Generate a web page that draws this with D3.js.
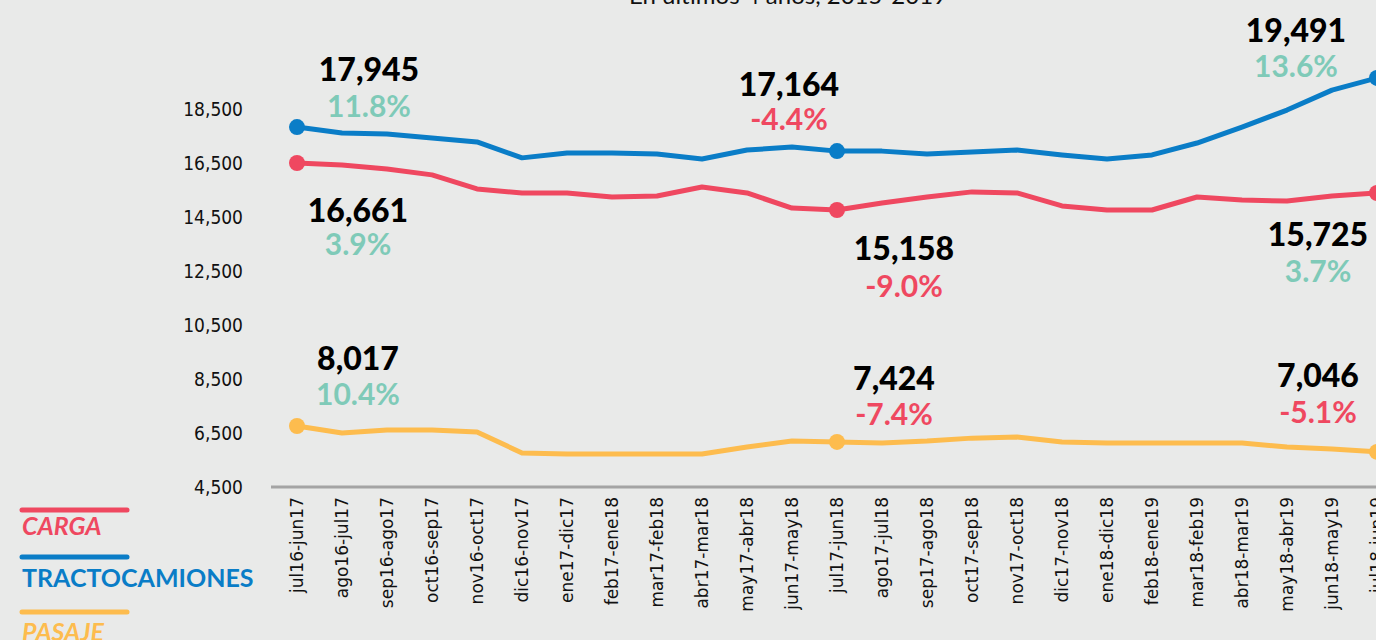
<!DOCTYPE html>
<html>
<head>
<meta charset="utf-8">
<script src="https://cdnjs.cloudflare.com/ajax/libs/d3/7.8.5/d3.min.js"></script>
<style>
  body { margin: 0; background: #e9eae9; overflow: hidden; }
  svg { display: block; }
</style>
</head>
<body>
<svg width="1376" height="640"></svg>
<script>
// periodos moviles de 12 meses
var periodos = ["jul16-jun17","ago16-jul17","sep16-ago17","oct16-sep17","nov16-oct17","dic16-nov17",
  "ene17-dic17","feb17-ene18","mar17-feb18","abr17-mar18","may17-abr18","jun17-may18",
  "jul17-jun18","ago17-jul18","sep17-ago18","oct17-sep18","nov17-oct18","dic17-nov18",
  "ene18-dic18","feb18-ene19","mar18-feb19","abr18-mar19","may18-abr19","jun18-may19","jul18-jun19"];

var carga = [16500,16430,16280,16060,15540,15390,15390,15240,15280,15610,15390,14830,
  14760,15020,15240,15430,15390,14910,14760,14760,15240,15130,15090,15280,15390];
var tracto = [17830,17610,17570,17430,17280,16690,16870,16870,16830,16650,16980,17090,
  16940,16940,16830,16910,16980,16800,16650,16800,17240,17830,18460,19200,19650];
var pasaje = [6760,6500,6610,6610,6540,5760,5720,5720,5720,5720,5980,6200,
  6170,6130,6200,6310,6350,6170,6130,6130,6130,6130,5980,5910,5800];

var yTicks = [4500,6500,8500,10500,12500,14500,16500,18500];

// etiquetas de los puntos marcados (inicio, mitad, fin)
var marcados = [0, 12, 24];
var cargaLbl  = ["16,661","15,158","15,725"];
var cargaPct  = ["3.9%","-9.0%","3.7%"];
var tractoLbl = ["17,945","17,164","19,491"];
var tractoPct = ["11.8%","-4.4%","13.6%"];
var pasajeLbl = ["8,017","7,424","7,046"];
var pasajePct = ["10.4%","-7.4%","-5.1%"];

var rojo = "#ef4860", azul = "#0a7dc7", amarillo = "#fdbc4e", verde = "#7fcab8";

var svg = d3.select("svg");

var x = d3.scaleLinear().domain([0, periodos.length - 1]).range([297, 1377]);
var y = d3.scaleLinear().domain([4500, 18500]).range([487, 109]);

// titulo (cortado arriba)
svg.append("text")
  .attr("x", 788).attr("y", 4)
  .attr("text-anchor", "middle")
  .style("font-family", "Lato, sans-serif")
  .style("font-size", "24px")
  .attr("fill", "#111")
  .text("En últimos 4 años, 2015-2019");

// eje y solo con etiquetas
var yAxis = d3.axisLeft(y).tickValues(yTicks).tickFormat(d3.format(",")).tickSize(0).tickPadding(0);
var gy = svg.append("g").attr("transform", "translate(243,0)").call(yAxis);
gy.select(".domain").remove();
gy.selectAll("text")
  .style("font-family", "'DejaVu Sans Condensed', 'Liberation Sans Narrow', sans-serif")
  .style("font-size", "19px")
  .attr("fill", "#111");

// eje x
svg.append("line")
  .attr("x1", 271).attr("x2", 1376)
  .attr("y1", 487).attr("y2", 487)
  .attr("stroke", "#a4a4a4").attr("stroke-width", 3);

var xAxis = d3.axisBottom(x).tickValues(d3.range(periodos.length))
  .tickFormat(function(i){ return periodos[i]; }).tickSize(0);
var gx = svg.append("g").attr("transform", "translate(0,487)").call(xAxis);
gx.select(".domain").remove();
gx.selectAll("text")
  .attr("transform", "rotate(-90)")
  .attr("x", -10).attr("y", 0).attr("dy", "0.35em")
  .attr("text-anchor", "end")
  .style("font-family", "'DejaVu Sans', sans-serif")
  .style("font-size", "17px")
  .attr("fill", "#111");

// lineas
var line = d3.line()
  .x(function(d, i){ return x(i); })
  .y(function(d){ return y(d); });

var series = [
  {vals: carga,  color: rojo,     lbl: cargaLbl,  pct: cargaPct,
   pos: [[61,46,80],[67,38,75],[-59,41,77]]},
  {vals: tracto, color: azul,     lbl: tractoLbl, pct: tractoPct,
   pos: [[72,-59,-22],[-48,-68,-33],[-81,-48,-13]]},
  {vals: pasaje, color: amarillo, lbl: pasajeLbl, pct: pasajePct,
   pos: [[61,-68,-33],[57,-64,-29],[-59,-77,-41]]}
];

series.forEach(function(s){
  svg.append("path")
    .datum(s.vals)
    .attr("d", line)
    .attr("fill", "none")
    .attr("stroke", s.color)
    .attr("stroke-width", 5)
    .attr("stroke-linejoin", "round");

  marcados.forEach(function(idx, k){
    var cx = x(idx), cy = y(s.vals[idx]);
    svg.append("circle")
      .attr("cx", cx).attr("cy", cy).attr("r", 8)
      .attr("fill", s.color);

    var p = s.pos[k];
    svg.append("text")
      .attr("x", cx + p[0]).attr("y", cy + p[1])
      .attr("text-anchor", "middle").attr("dominant-baseline", "central")
      .style("font-family", "Lato, sans-serif")
      .style("font-weight", "900")
      .style("font-size", "32px")
      .attr("fill", "#000")
      .text(s.lbl[k]);

    var neg = s.pct[k].charAt(0) == "-";
    svg.append("text")
      .attr("x", cx + p[0]).attr("y", cy + p[2])
      .attr("text-anchor", "middle").attr("dominant-baseline", "central")
      .style("font-family", "Lato, sans-serif")
      .style("font-weight", "700")
      .style("font-size", "30px")
      .attr("fill", neg ? rojo : verde)
      .text(s.pct[k]);
  });
});

// leyenda
var leyenda = [
  {name: "CARGA", color: rojo, italic: true},
  {name: "TRACTOCAMIONES", color: azul, italic: false},
  {name: "PASAJE", color: amarillo, italic: true}
];
var legY = [510, 557, 612];
var legOff = [15, 20, 19];
leyenda.forEach(function(l, i){
  svg.append("line")
    .attr("x1", 22).attr("x2", 127)
    .attr("y1", legY[i]).attr("y2", legY[i])
    .attr("stroke", l.color).attr("stroke-width", 5)
    .attr("stroke-linecap", "round");
  svg.append("text")
    .attr("x", 22).attr("y", legY[i] + legOff[i])
    .attr("dominant-baseline", "central")
    .style("font-family", "Lato, sans-serif")
    .style("font-weight", "700")
    .style("font-style", l.italic ? "italic" : "normal")
    .style("font-size", "25px")
    .attr("fill", l.color)
    .text(l.name);
});
</script>
</body>
</html>
